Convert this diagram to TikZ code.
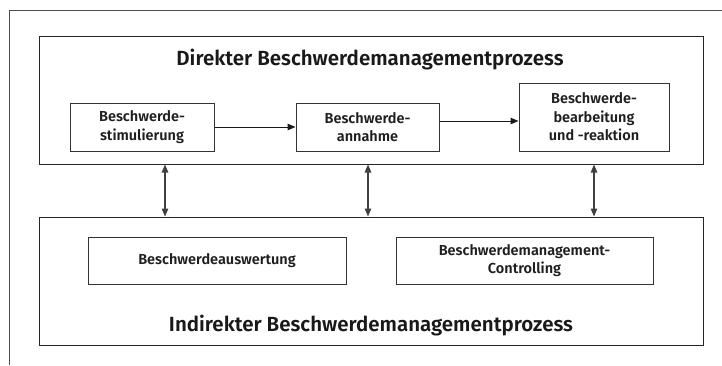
\documentclass[tikz,border=0pt]{standalone}
\usepackage{fontspec}
\setmainfont{Fira Sans}[BoldFont={Fira Sans SemiBold}]
\usetikzlibrary{positioning}
\usetikzlibrary{arrows.meta}

\tikzset{
  procbox/.style={draw=black!85, line width=1pt, rectangle, inner sep=0pt},
  stepbox/.style={draw=black!80, line width=1pt, rectangle, inner sep=0pt, align=center,
    font=\fontsize{14.5}{18.5}\selectfont\bfseries, text=black!88},
  headline/.style={font=\fontsize{20.5}{24}\selectfont\bfseries, text=black!90},
  flow/.style={draw=black!90, line width=1pt, -{Triangle[length=8pt,width=6.5pt]}},
  both/.style={draw=black!70, line width=1.1pt, {Triangle[length=8pt,width=6.5pt]}-{Triangle[length=8pt,width=6.5pt]}, black!75}
}

\begin{document}
\begin{tikzpicture}[x=1pt,y=-1pt]
      \useasboundingbox (0,0) rectangle (722,365);

      % frame (only top and left are seen)
      \draw[black!70, line width=1pt] (722,10) -- (9,10) -- (9,365);

      % the two processes
      \node[procbox, minimum width=664pt, minimum height=128pt] (dir) at (371,100) {};
      \node[procbox, minimum width=664pt, minimum height=128pt] (indir) at (371,281) {};
      \node[headline] (dirt) at (370,60) {Direkter Beschwerdemanagementprozess};
      \node[headline] (indirt) at (371,326) {Indirekter Beschwerdemanagementprozess};

      % steps
      \node[stepbox, minimum width=144pt, minimum height=48pt] (stim) at (142,127) {Beschwerde-\\stimulierung};
      \node[stepbox, minimum width=143pt, minimum height=48pt] (ann) at (367.5,127) {Beschwerde-\\annahme};
      \node[stepbox, minimum width=150pt, minimum height=68pt] (bear) at (594,117) {Beschwerde-\\bearbeitung\\und -reaktion};
      \node[stepbox, minimum width=258pt, minimum height=47pt] (ausw) at (217,260.5) {Beschwerdeauswertung};
      \node[stepbox, minimum width=257pt, minimum height=47pt] (contr) at (524.5,260.5) {Beschwerdemanagement-\\Controlling};

      \draw[flow] (stim.east) -- (ann.west);
      \draw[flow] ([yshift=6pt]ann.east) -- ([yshift=-4pt]bear.west);

      \foreach \x in {165,368,594}
        {\draw[both] (dir.south -| \x,0) -- (indir.north -| \x,0);}
\end{tikzpicture}
\end{document}
